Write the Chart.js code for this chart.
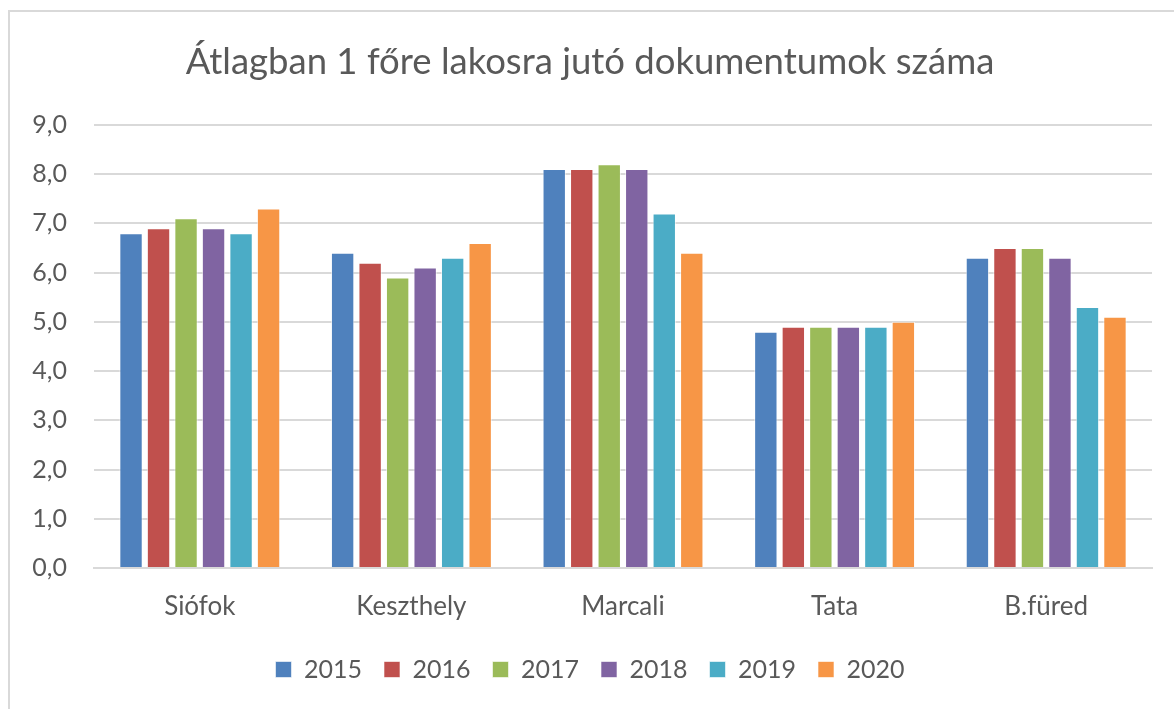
<!DOCTYPE html>
<html>
<head>
<meta charset="utf-8">
<script src="https://cdn.jsdelivr.net/npm/chart.js@4/dist/chart.umd.min.js"></script>
<style>
    html, body { margin: 0; padding: 0; background: #fff; }
    #wrap { position: relative; width: 1174px; height: 709px; overflow: hidden; }
    #frame { position: absolute; left: 8px; top: 10px; width: 1300px; height: 800px; border: 2px solid #d9d9d9; box-sizing: border-box; }
    #chart { position: absolute; left: 0; top: 0; }
</style>
</head>
<body>
<div id="wrap">
    <div id="frame"></div>
    <canvas id="chart" width="1174" height="709"></canvas>
</div>
<script>
const cities = ['Siófok', 'Keszthely', 'Marcali', 'Tata', 'B.füred'];
const years = ['2015', '2016', '2017', '2018', '2019', '2020'];
const colors = ['#4F81BD', '#C0504D', '#9BBB59', '#8064A2', '#4BACC6', '#F79646'];

// one array per year, in city order
const y2015 = [6.8, 6.4, 8.1, 4.8, 6.3];
const y2016 = [6.9, 6.2, 8.1, 4.9, 6.5];
const y2017 = [7.1, 5.9, 8.2, 4.9, 6.5];
const y2018 = [6.9, 6.1, 8.1, 4.9, 6.3];
const y2019 = [6.8, 6.3, 7.2, 4.9, 5.3];
const y2020 = [7.3, 6.6, 6.4, 5.0, 5.1];
const values = [y2015, y2016, y2017, y2018, y2019, y2020];

const textColor = '#595959';
const gridColor = '#d9d9d9';
const fontFamily = 'Lato, "Open Sans", sans-serif';

let datasets = [];
for (let i = 0; i < years.length; i++) {
    datasets.push({
        label: years[i],
        data: values[i],
        backgroundColor: colors[i],
        borderColor: 'rgba(255,255,255,0.6)',
        borderWidth: 1,
        categoryPercentage: 0.78,
        barPercentage: 0.85
    });
}

var chart = new Chart(document.getElementById('chart'), {
    type: 'bar',
    data: {
        labels: cities,
        datasets: datasets
    },
    options: {
        responsive: false,
        animation: false,
        layout: {
            padding: {left: 28, right: 22, top: 18, bottom: 17}
        },
        plugins: {
            title: {
                display: true,
                text: 'Átlagban 1 főre lakosra jutó dokumentumok száma',
                color: textColor,
                font: {family: fontFamily, size: 36.5, weight: 'normal'},
                padding: {top: 22, bottom: 41}
            },
            legend: {
                position: 'bottom',
                labels: {
                    color: textColor,
                    font: {family: fontFamily, size: 25},
                    boxWidth: 16,
                    boxHeight: 16,
                    padding: 22
                }
            },
            tooltip: {enabled: false}
        },
        scales: {
            x: {
                // fixed height so the legend gap matches
                afterFit(scale) {
                    scale.height = 67;
                },
                grid: {display: false},
                border: {color: gridColor, width: 2},
                ticks: {
                    color: textColor,
                    font: {family: fontFamily, size: 26},
                    padding: 15
                }
            },
            y: {
                min: 0,
                max: 9,
                afterFit(scale) {
                    scale.width = 66;
                },
                grid: {color: gridColor, lineWidth: 2, drawTicks: false},
                border: {display: false},
                ticks: {
                    stepSize: 1,
                    color: textColor,
                    padding: 27,
                    font: {family: fontFamily, size: 25},
                    callback: (v) => v.toFixed(1).replace('.', ',')
                }
            }
        }
    }
});
</script>
</body>
</html>
